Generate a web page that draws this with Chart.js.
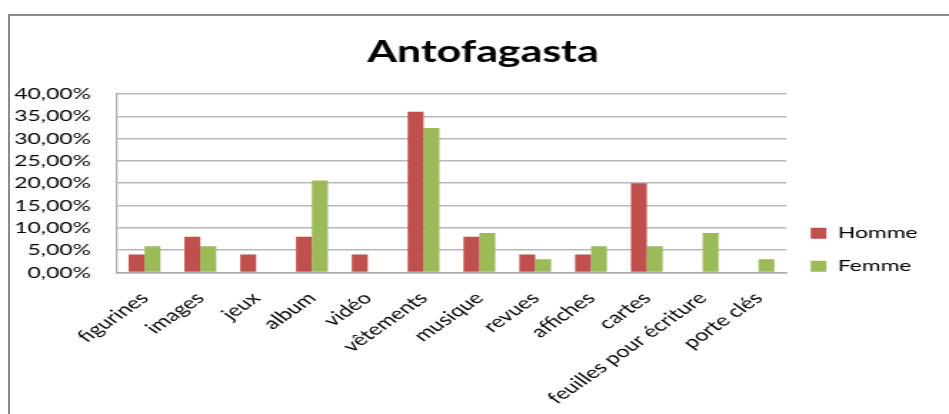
<!DOCTYPE html>
<html>
<head>
<meta charset="utf-8">
<script src="https://cdn.jsdelivr.net/npm/chart.js@4.4.1/dist/chart.umd.min.js"></script>
<style>
    html, body { margin: 0; padding: 0; background: #fff; }
    body { width: 949px; height: 414px; overflow: hidden; position: relative; }
    #frame {
        position: absolute; left: 8px; top: 14px; width: 960px; height: 420px;
        border-left: 2px solid #8c8c8c; border-top: 2px solid #8c8c8c;
    }
    /* the reference is stretched horizontally, so draw narrow and stretch */
    #wrap {
        position: absolute; left: 0; top: 0; width: 664px; height: 414px;
        transform: scaleX(1.4292); transform-origin: 0 0;
    }
</style>
</head>
<body>
<div id="frame"></div>
<div id="wrap"><canvas id="antofagastaChart"></canvas></div>
<script>
const categories = ['figurines', 'images', 'jeux', 'album', 'vidéo', 'vêtements',
    'musique', 'revues', 'affiches', 'cartes', 'feuilles pour écriture', 'porte clés'];
const homme = [4, 8, 4, 8, 4, 36, 8, 4, 4, 20, 0, 0];
const femme = [5.88, 5.88, 0, 20.59, 0, 32.35, 8.82, 2.94, 5.88, 5.88, 8.82, 2.94];
const yMin = 0;
const yMax = 40;
const yStep = 5;

const FONT = 'Lato';

const formatPercent = (v) => v.toFixed(2).replace('.', ',') + '%';

// title is centred over the whole original chart, not over chart area + legend
const titleShift = {
    id: 'titleShift',
    afterLayout(chart) {
        if (chart.titleBlock) {
            chart.titleBlock.left += 32;
        }
    },
};

const initChart = () => {
    const canvas = document.getElementById('antofagastaChart');

    new Chart(canvas, {
        type: 'bar',
        data: {
            labels: categories,
            datasets: [
                { label: 'Homme', data: homme, backgroundColor: '#C0504D' },
                { label: 'Femme', data: femme, backgroundColor: '#9BBB59' },
            ],
        },
        options: {
            responsive: true,
            maintainAspectRatio: false,
            animation: false,
            devicePixelRatio: 1,
            datasets: { bar: { categoryPercentage: 0.57, barPercentage: 1.0 } },
            layout: { padding: { left: -8, right: 12, top: 0, bottom: -2 } },
            plugins: {
                tooltip: { enabled: false },
                title: {
                    display: true,
                    text: 'Antofagasta',
                    color: '#000',
                    font: { family: FONT, size: 30, weight: 'bold' },
                    padding: { top: 34, bottom: 24 },
                },
                legend: {
                    position: 'right',
                    align: 'start',
                    // empty legend title only pushes the items down
                    title: { display: true, text: '', padding: { top: 189, bottom: 0 }, font: { size: 16 } },
                    labels: {
                        boxWidth: 11,
                        boxHeight: 11,
                        padding: 17,
                        color: '#000',
                        font: { family: FONT, size: 16 },
                    },
                },
            },
            scales: {
                x: {
                    grid: { display: false },
                    border: { display: true, color: '#adadad', width: 1.5 },
                    ticks: {
                        minRotation: 45,
                        maxRotation: 45,
                        autoSkip: false,
                        padding: 8,
                        color: '#000',
                        font: { family: FONT, size: 16.5 },
                    },
                },
                y: {
                    min: yMin,
                    max: yMax,
                    grid: { color: '#b8b8b8', lineWidth: 1.5, drawTicks: false },
                    border: { display: true, color: '#adadad', width: 1.2 },
                    ticks: {
                        stepSize: yStep,
                        autoSkip: false,
                        padding: 18,
                        color: '#000',
                        font: { family: FONT, size: 16 },
                        callback: (v) => formatPercent(v),
                    },
                },
            },
        },
        plugins: [titleShift],
    });
};

Promise.all([
    document.fonts.load('bold 30px Lato'),
    document.fonts.load('16px Lato'),
]).then(initChart, initChart);
</script>
</body>
</html>
